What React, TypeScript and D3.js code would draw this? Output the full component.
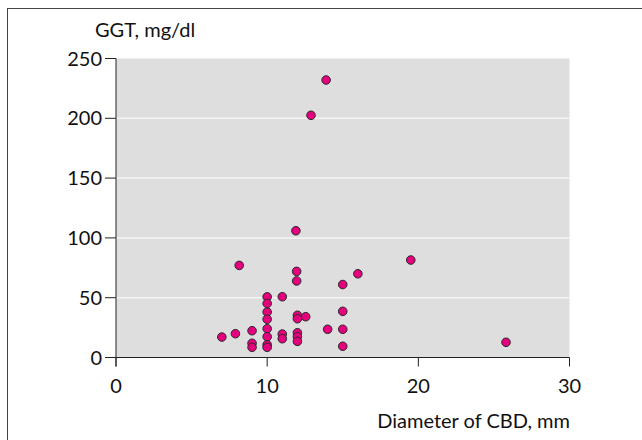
import React from 'react';
import * as d3 from 'd3';

// Diameter of CBD (mm) vs GGT (mg/dl)
const diameter = [
  8.15, 11.95, 11.95, 15, 16, 19.5, 25.8, 13.9, 12.9, 11.9,
  10, 10, 10, 10, 10, 10, 10, 10,
  9, 9, 9, 7, 7.9,
  11, 11, 11,
  12, 12, 12, 12, 12, 12.55,
  14, 15, 15, 15,
];
const ggt = [
  77, 72, 64, 61, 70, 81.5, 12.7, 232, 202.5, 106,
  50.7, 45.2, 38, 32, 24.1, 17.4, 10.7, 8.5,
  22.4, 11.9, 8.5, 17.1, 19.9,
  50.8, 19.6, 15.7,
  35.3, 32.4, 20.7, 17.4, 13.5, 34.1,
  23.6, 38.6, 23.6, 9.4,
];
const xTicks = [0, 10, 20, 30];
const yTicks = [0, 50, 100, 150, 200, 250];
const gridTicks = [50, 100, 150, 200];

const font = 'Lato, "Noto Sans", sans-serif';

const App = () => {
  const width = 642;
  const height = 440;
  const x = d3.scaleLinear().domain([0, 30]).range([116, 569.5]);
  const y = d3.scaleLinear().domain([0, 250]).range([357.5, 58.5]);
  const points = diameter.map((d, i) => ({ d, g: ggt[i] }));

  return (
    <svg
      width={width}
      height={height}
      style={{ position: 'absolute', left: 0, top: 0 }}
      fontFamily={font}
    >
      <rect x={0} y={0} width={width} height={height} fill="#fff" />
      <rect x={7.5} y={8.5} width={width + 20} height={height + 20} fill="none" stroke="#444" strokeWidth={1} />

      <rect x={x(0)} y={y(250)} width={x(30) - x(0)} height={y(0) - y(250)} fill="#dedede" />
      {gridTicks.map((t) => (
        <line key={t} x1={x(0)} x2={x(30)} y1={y(t)} y2={y(t)} stroke="#f4f4f4" strokeWidth={1.5} />
      ))}

      {/* axes */}
      <line x1={x(0)} x2={x(30)} y1={y(0)} y2={y(0)} stroke="#222" strokeWidth={1} />
      <line x1={x(0)} x2={x(0)} y1={y(250)} y2={y(0) + 9} stroke="#222" strokeWidth={1} />
      {xTicks.map((t) => (
        <g key={t}>
          <line x1={x(t)} x2={x(t)} y1={y(0)} y2={y(0) + 9} stroke="#222" />
          <text x={x(t)} y={393} textAnchor="middle" fontSize={20} fill="#111">{t}</text>
        </g>
      ))}
      {yTicks.map((t) => (
        <g key={t}>
          <line x1={x(0) - 11} x2={x(0)} y1={y(t)} y2={y(t)} stroke="#222" />
          <text x={102} y={y(t) + 7} textAnchor="end" fontSize={20} fill="#111">{t}</text>
        </g>
      ))}

      <text x={95} y={37} fontSize={20} fill="#111">GGT, mg/dl</text>
      <text x={570} y={428} textAnchor="end" fontSize={20} fill="#111">Diameter of CBD, mm</text>

      {points.map((p, i) => (
        <circle key={i} cx={x(p.d)} cy={y(p.g)} r={4.3} fill="#e5007d" stroke="#2a2a2a" strokeWidth={1} />
      ))}
    </svg>
  );
};

export default App;
